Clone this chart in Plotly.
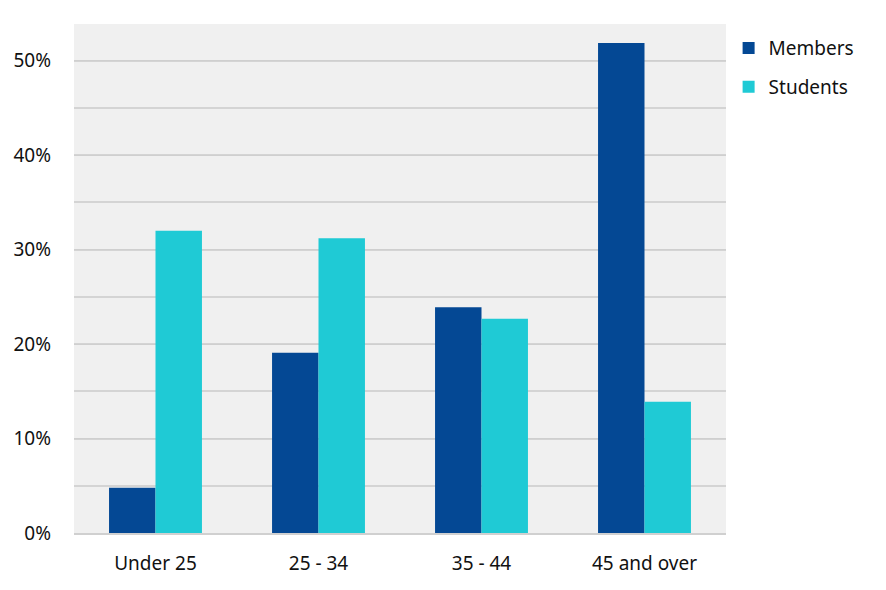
import plotly.graph_objects as go

categories = ["Under 25", "25 - 34", "35 - 44", "45 and over"]
members = [0.048, 0.191, 0.239, 0.519]
students = [0.320, 0.312, 0.227, 0.139]
y_ticks = [0, 0.1, 0.2, 0.3, 0.4, 0.5]
y_tick_labels = ["0%", "10%", "20%", "30%", "40%", "50%"]

fig = go.Figure()
fig.add_trace(go.Bar(x=categories, y=members, name="Members", legendgroup="m",
                     marker=dict(color="#044894", line=dict(width=0))))
fig.add_trace(go.Bar(x=categories, y=students, name="Students", legendgroup="s",
                     marker=dict(color="#1fcad5", line=dict(width=0))))

# page is offset by the 8px body margin, so margins are trimmed to match
fig.update_layout(
    width=886, height=590,
    autosize=False,
    barmode="group",
    bargap=0.43,
    bargroupgap=0,
    plot_bgcolor="#f0f0f0",
    paper_bgcolor="white",
    font=dict(family="Noto Sans, Open Sans, sans-serif", size=19, color="#111111"),
    margin=dict(l=66, r=168, t=16, b=65, autoexpand=False),
    legend=dict(x=1.004, xanchor="left", y=0.99, yanchor="top",
                font=dict(size=19), traceorder="grouped", tracegroupgap=11,
                itemwidth=30),
    showlegend=True,
)
fig.update_xaxes(showgrid=False, showline=True, linecolor="#d0d0d0",
                 linewidth=2, ticks="", ticklen=0, ticklabelstandoff=12,
                 automargin=False)
fig.update_yaxes(range=[0, 0.539], tickvals=y_ticks, ticktext=y_tick_labels,
                 showgrid=True, gridcolor="#cfcfcf", gridwidth=1,
                 minor=dict(dtick=0.05, showgrid=True, gridcolor="#d4d4d4", gridwidth=1.5),
                 zeroline=False, ticks="", ticklabelstandoff=22, automargin=False)

fig.write_html("out.html")
